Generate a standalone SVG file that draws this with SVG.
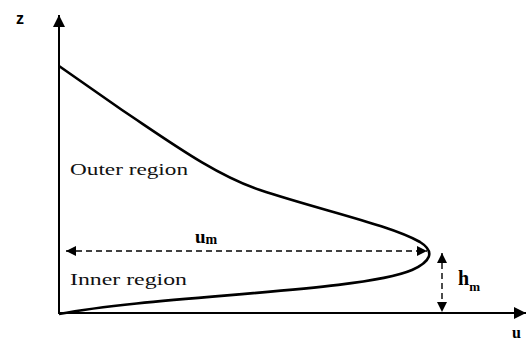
<svg xmlns="http://www.w3.org/2000/svg" width="527" height="342" viewBox="0 0 527 342">
<style>
.ax{stroke:#000;stroke-width:2;fill:none}
.cv{stroke:#000;stroke-width:2.6;fill:none}
.ds{stroke:#000;stroke-width:1.4;fill:none;stroke-dasharray:6,4}
.lb{font-family:"Liberation Serif",serif;font-size:16px;fill:#111}
</style>
<defs>
<marker id="ah" viewBox="0 0 10 10" refX="10" refY="5" markerWidth="10" markerHeight="10" markerUnits="userSpaceOnUse" orient="auto-start-reverse"><path d="M0,0 L10,5 L0,10 z" fill="#000"/></marker>
<marker id="big" viewBox="0 0 12 12" refX="12" refY="6" markerWidth="12" markerHeight="12" markerUnits="userSpaceOnUse" orient="auto"><path d="M0,0 L12,6 L0,12 z" fill="#000"/></marker>
</defs>
<g id="axes">
<line class="ax" x1="59" y1="314" x2="59" y2="15" marker-end="url(#big)"/>
<line class="ax" x1="58" y1="313" x2="526" y2="313" marker-end="url(#big)"/>
<text x="16" y="24" font-family="Liberation Sans,sans-serif" font-size="16" font-weight="bold">z</text>
<text x="512" y="338" font-family="Liberation Serif,serif" font-size="16" font-weight="bold">u</text>
</g>
<g id="profile">
<path class="cv" d="M59,66 L122,110 C170,142 215,175 260,190 C320,210 390,225 420,242 C436,252 430,262 412,270 C360,292 160,295 59,314"/>
</g>
<g id="connectors">
<line class="ds" x1="66" y1="251" x2="427" y2="251" marker-start="url(#ah)" marker-end="url(#ah)"/>
<line class="ds" x1="442" y1="253" x2="442" y2="312" marker-start="url(#ah)" marker-end="url(#ah)"/>
</g>
<g id="labels">
<text class="lb" x="70" y="175" textLength="118" lengthAdjust="spacingAndGlyphs">Outer region</text>
<text class="lb" x="70" y="285" textLength="117" lengthAdjust="spacingAndGlyphs">Inner region</text>
<text x="195" y="243" font-family="Liberation Serif,serif" font-size="19" font-weight="bold">u<tspan font-size="14" dy="1">m</tspan></text>
<text x="458" y="285" font-family="Liberation Serif,serif" font-size="20" font-weight="bold">h<tspan font-size="13" dy="6">m</tspan></text>
</g>
</svg>
